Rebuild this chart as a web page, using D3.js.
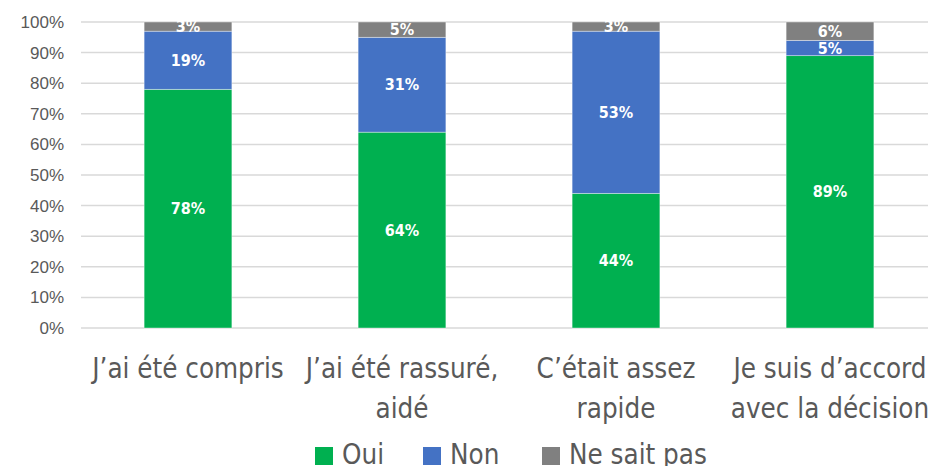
<!DOCTYPE html>
<html>
<head>
<meta charset="utf-8">
<script src="https://cdn.jsdelivr.net/npm/d3@7"></script>
<style>
  body { margin: 0; background: #fff; }
  svg { display: block; font-family: "DejaVu Sans Condensed", "Liberation Sans Narrow", sans-serif; }
</style>
</head>
<body>
<div id="chart"></div>
<script>
// chart values
var categories = [["J\u2019ai été compris"], ["J\u2019ai été rassuré,", "aidé"], ["C\u2019était assez", "rapide"], ["Je suis d\u2019accord", "avec la décision"]];
var series_names = ['Oui', 'Non', 'Ne sait pas'];
var oui_values = [78, 64, 44, 89];
var non_values = [19, 31, 53, 5];
var nsp_values = [3, 5, 3, 6];
var y_ticks = [0, 10, 20, 30, 40, 50, 60, 70, 80, 90, 100];

var colors = ['#00b050', '#4472c4', '#808080'];

var width  = 928;
var height = 466;

var plot_left   = 81;
var plot_right  = 937; // the chart is cut off on the right
var plot_top    = 22;
var plot_bottom = 328;

var svg = d3.select('#chart')
    .append('svg')
    .attr('width', width)
    .attr('height', height);

// build rows for the stack layout
var data = categories.map(function(c, i) {
    return { idx: i, 'Oui': oui_values[i], 'Non': non_values[i], 'Ne sait pas': nsp_values[i] };
});

var x_scale = d3.scaleBand()
    .domain(d3.range(categories.length))
    .range([plot_left, plot_right])
    .paddingInner(0.59)
    .paddingOuter(0.295);

var y_scale = d3.scaleLinear()
    .domain([0, 100])
    .range([plot_bottom, plot_top]);

// gridlines
svg.append('g')
    .selectAll('line')
    .data(y_ticks)
    .enter()
    .append('line')
    .attr('x1', plot_left)
    .attr('x2', width)
    .attr('y1', function(d) { return y_scale(d); })
    .attr('y2', function(d) { return y_scale(d); })
    .attr('stroke', '#d9d9d9')
    .attr('stroke-width', 1.5);

// y axis labels
var y_axis = d3.axisLeft(y_scale)
    .tickValues(y_ticks)
    .tickFormat(function(d) { return d + '%'; })
    .tickSize(0)
    .tickPadding(17);

svg.append('g')
    .attr('transform', 'translate(' + plot_left + ',0)')
    .call(y_axis)
    .call(function(g) {
        g.select('.domain').remove();
        g.selectAll('text')
            .attr('fill', '#595959')
            .attr('font-size', '17px')
            .attr('font-family', 'inherit');
    });

// stacked bars
var stack = d3.stack().keys(series_names);
var stack_data = stack(data);

var groups = svg.selectAll('g.series')
    .data(stack_data)
    .enter()
    .append('g')
    .attr('class', 'series')
    .style('fill', function(d, i) { return colors[i]; });

groups.selectAll('rect')
    .data(function(d) { return d; })
    .enter()
    .append('rect')
    .attr('x', function(d) { return x_scale(d.data.idx); })
    .attr('y', function(d) { return y_scale(d[1]); })
    .attr('width', x_scale.bandwidth())
    .attr('height', function(d) { return y_scale(d[0]) - y_scale(d[1]); })
    .attr('stroke', '#ffffff')
    .attr('stroke-opacity', 0.5)
    .attr('stroke-width', 0.75);

// value labels
groups.selectAll('text')
    .data(function(d) { return d; })
    .enter()
    .append('text')
    .attr('x', function(d) { return x_scale(d.data.idx) + x_scale.bandwidth() / 2; })
    .attr('y', function(d) { return y_scale((d[0] + d[1]) / 2); })
    .attr('dy', '0.35em')
    .attr('text-anchor', 'middle')
    .attr('fill', '#ffffff')
    .attr('font-weight', 'bold')
    .attr('font-size', '16px')
    .text(function(d) { return (d[1] - d[0]) + '%'; });

// category labels
var cat_labels = svg.append('g')
    .selectAll('text')
    .data(categories)
    .enter()
    .append('text')
    .attr('text-anchor', 'middle')
    .attr('fill', '#595959')
    .attr('font-size', '27.5px')
    .attr('transform', function(d, i) {
        return 'translate(' + (x_scale(i) + x_scale.bandwidth() / 2) + ',' + 378 + ')';
    });

cat_labels.selectAll('tspan')
    .data(function(d) { return d; })
    .enter()
    .append('tspan')
    .attr('x', 0)
    .attr('y', function(d, i) { return i * 40; })
    .text(function(d) { return d; });

// legend
var legend_x = [315, 423, 542];
var legend = svg.append('g')
    .selectAll('g')
    .data(series_names)
    .enter()
    .append('g')
    .attr('transform', function(d, i) { return 'translate(' + legend_x[i] + ',447)'; });

legend.append('rect')
    .attr('width', 18)
    .attr('height', 18)
    .attr('fill', function(d, i) { return colors[i]; });

legend.append('text')
    .attr('x', 27)
    .attr('y', 17)
    .attr('fill', '#595959')
    .attr('font-size', '27.5px')
    .text(function(d) { return d; });
</script>
</body>
</html>
